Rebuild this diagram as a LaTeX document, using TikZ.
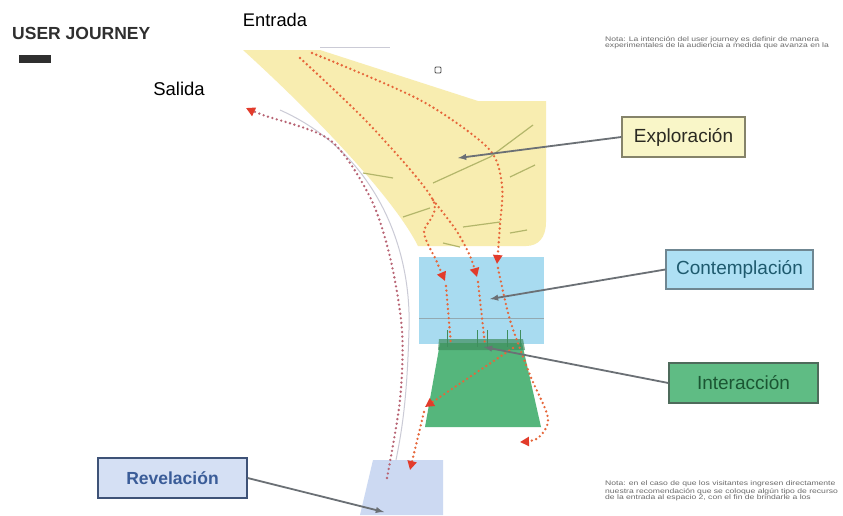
\documentclass[tikz,border=0pt]{standalone}
\usepackage{fontspec}
\setmainfont{Liberation Sans}
\newfontfamily\notefont{Liberation Sans}[FakeStretch=1.3]
\usetikzlibrary{arrows,arrows.meta}
\definecolor{exfill}{HTML}{F8EDB0}
\definecolor{cofill}{HTML}{A8DBF0}
\definecolor{infill}{HTML}{55B67C}
\definecolor{indark}{HTML}{3F8E5E}
\definecolor{refill}{HTML}{CCD9F2}
\definecolor{dotorange}{HTML}{E6663A}
\definecolor{dotexit}{HTML}{B86474}
\definecolor{tipred}{HTML}{E23B2B}
\definecolor{pointgrey}{HTML}{6B7075}
\definecolor{wallgrey}{HTML}{CBCBD6}
\definecolor{contourgreen}{HTML}{B3B66A}
\definecolor{exbox}{HTML}{F9F6C8}
\definecolor{exline}{HTML}{85836A}
\definecolor{extext}{HTML}{2B2A22}
\definecolor{cobox}{HTML}{AEE0F4}
\definecolor{coline}{HTML}{6F8792}
\definecolor{cotext}{HTML}{1E5A6E}
\definecolor{inbox}{HTML}{5FBC84}
\definecolor{inline}{HTML}{4E6B5B}
\definecolor{intext}{HTML}{1B5633}
\definecolor{rebox}{HTML}{D5E0F4}
\definecolor{reline}{HTML}{3E5277}
\definecolor{retext}{HTML}{3A5C98}
\definecolor{titlegrey}{HTML}{2F2F2F}
\definecolor{notegrey}{HTML}{6A6A6A}

\begin{document}
\begin{tikzpicture}[x=1pt,y=-1pt,
    dots/.style={draw=dotorange, line width=2.6pt, line cap=round, dash pattern=on 0pt off 4.6pt},
    walk/.style={dots, -{Triangle[length=9pt,width=9pt,color=tipred]}},
    pointer/.style={draw=pointgrey, line width=1.8pt, -latex},
    note/.style={anchor=north west, align=left, inner sep=0pt, text=notegrey, font=\notefont\fontsize{6.6}{6.2}\selectfont},
    stagebox/.style={draw, line width=1.3pt, minimum height=40pt, inner sep=0pt, font=\fontsize{19}{19}\selectfont}]
    \useasboundingbox[fill=white] (0,0) rectangle (843,515);

    \node[anchor=west, inner sep=0pt, text=titlegrey, font=\bfseries\fontsize{17.5}{17.5}\selectfont] (title) at (12,33) {USER JOURNEY};
    \fill[titlegrey] (19,55) rectangle (51,63);
    \node[inner sep=0pt, font=\fontsize{18.3}{18.3}\selectfont] (entrada) at (275,20) {Entrada};
    \node[inner sep=0pt, font=\fontsize{18.5}{18.5}\selectfont] (salida) at (179,88.5) {Salida};
    \node[note] (notetop) at (605,36)
      {Nota: La intención del user journey es definir de manera\\
       experimentales de la audiencia a medida que avanza en la};
    \node[note] (notebottom) at (605,481)
      {Nota: en el caso de que los visitantes ingresen directamente\\
       nuestra recomendación que se coloque algún tipo de recurso\\
       de la entrada al espacio 2, con el fin de brindarle a los};

    \fill[exfill] (243,50) -- (320,50) -- (478,101) -- (546,101) -- (546,222)
      .. controls (546,238) and (538,246) .. (526,246) -- (418,246)
      .. controls (395,200) and (320,120) .. (243,50) -- cycle;
    \fill[cofill] (419,257) rectangle (544,344);
    \draw[cofill!60!black!70, line width=0.8pt] (419,318) -- (544,318);
    \fill[infill] (440,343) -- (522,343) -- (541,427) -- (425,427) -- cycle;
    \fill[indark, opacity=0.7] (439,339) -- (523,339) -- (525,350) -- (438,350) -- cycle;
    \foreach \x in {447,477,487,507,520} {
      \draw[indark, line width=0.8pt] (\x,330) -- (\x,347);
    }
    \fill[refill] (373,460) -- (443,460) -- (443,515) -- (360,515) -- cycle;

    \draw[contourgreen, line width=1.2pt] (363,173) -- (393,178) (433,183) -- (490,157) -- (533,125)
      (510,177) -- (535,165) (403,217) -- (430,208) (463,227) -- (500,222) (510,233) -- (527,230)
      (443,243) -- (460,247);
    \draw[wallgrey, line width=1pt] (280,110) .. controls (370,150) and (412,240) .. (409,330)
      .. controls (407,400) and (402,430) .. (396,460);
    \draw[wallgrey, line width=1pt] (320,47) -- (390,47);
    \draw[black!70, line width=0.8pt, rounded corners=1pt] (435,67) rectangle (441,73);

    \draw[walk] plot[smooth] coordinates {(300,58) (370,125) (433,200) (424,232) (436,260) (445,281)};
    \draw[walk] plot[smooth] coordinates {(433,200) (456,230) (470,256) (477,277)};
    \draw[walk] plot[smooth] coordinates {(312,53) (420,100) (488,148) (502,185) (500,225) (497,264)};
    \draw[dots] (446,286) -- (451,345);
    \draw[dots] (478,282) -- (485,345);
    \draw[walk] plot[smooth] coordinates {(498,268) (510,320) (530,375) (548,418) (538,438) (520,442)};
    \draw[walk] (513,348) -- (425,407);
    \draw[walk] (424,412) -- (410,470);
    \draw[walk, draw=dotexit] plot[smooth] coordinates {(387,478) (400,400) (402,330) (390,257) (370,197) (330,140) (263,115) (246,108)};

    \coordinate (exploin) at (458,158);
    \coordinate (contin) at (490,299);
    \coordinate (interin) at (484,347);
    \coordinate (revelin) at (384,512);
    \node[stagebox, fill=exbox, draw=exline, text=extext, minimum width=123pt] (explo) at (683.5,137) {Exploración};
    \node[stagebox, fill=cobox, draw=coline, text=cotext, minimum width=147pt, minimum height=39pt] (contem) at (739.5,269.5) {Contemplación};
    \node[stagebox, fill=inbox, draw=inline, text=intext, minimum width=149pt] (interac) at (743.5,383) {Interacción};
    \node[stagebox, fill=rebox, draw=reline, text=retext, minimum width=149pt, font=\bfseries\fontsize{17.5}{17.5}\selectfont] (revel) at (172.5,478) {Revelación};
    \draw[pointer] (explo.west) -- (exploin);
    \draw[pointer] (contem.west) -- (contin);
    \draw[pointer] (interac.west) -- (interin);
    \draw[pointer] (revel.east) -- (revelin);
\end{tikzpicture}
\end{document}
